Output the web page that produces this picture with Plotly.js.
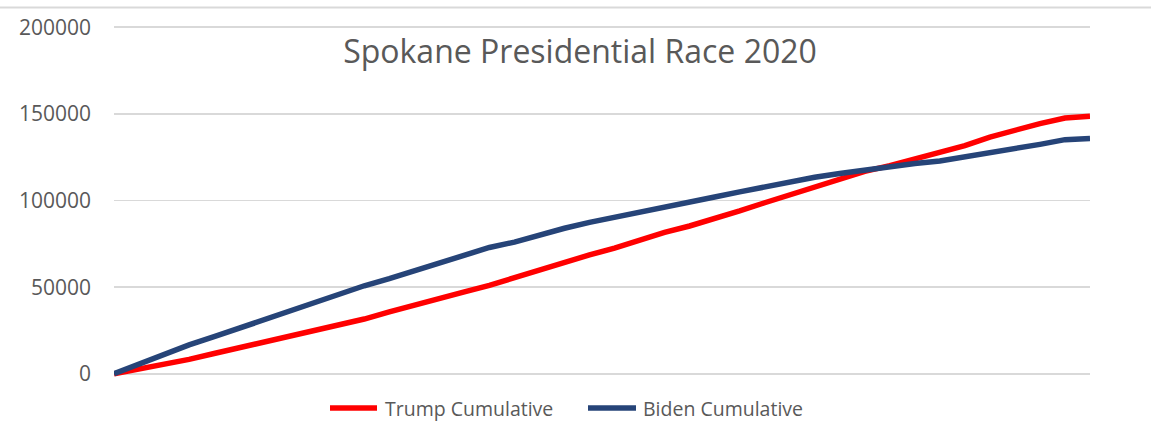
<!DOCTYPE html>
<html>
<head>
<meta charset="utf-8">
<script src="https://cdn.plot.ly/plotly-3.0.1.min.js"></script>
<style>
  html, body { margin: 0; padding: 0; background: #ffffff; }
  #chart { width: 1151px; height: 444px; }
</style>
</head>
<body>
<div id="chart"></div>
<script>
// Reporting step (precinct batch index) along the x axis
const steps = [0,1,2,3,4,5,6,7,8,9,10,11,12,13,14,15,16,17,18,19,20,21,22,23,24,25,26,27,28,29,30,31,32,33,34,35,36,37,38,39];

const trumpCumulative = [0,2700,5100,8300,11700,15000,18300,21700,24600,27600,31600,35700,39300,43500,47300,51000,55600,59700,64400,68600,72500,77100,81600,85300,89300,94000,98700,103400,107900,112500,116800,120100,124100,127600,131700,136600,140800,144400,147600,148576];

const bidenCumulative = [0,5600,11000,16700,21400,26400,30800,36500,41400,46200,50800,54900,59500,63400,68000,72900,76000,80200,84000,87400,90200,92900,95800,98900,102000,105000,108000,110800,113400,115600,117600,119500,121400,122800,125000,127700,130100,132400,135100,135765];

const seriesNames = ['Trump Cumulative', 'Biden Cumulative'];
const seriesColors = ['#ff0000', '#264478'];

const yTicks = [0, 50000, 100000, 150000, 200000];
const yTickLabels = ['0', '50000', '100000', '150000', '200000'];

const FONT = '"Open Sans", "Noto Sans", sans-serif';
const TEXT = '#595959';
const GRID = '#d9d9d9';

// plot-area geometry helpers (pixel -> paper)
const L = 114, R = 61, T = 21.5, B = 65.1, W = 1151, H = 444;
const pw = W - L - R, ph = H - T - B;
const px = v => (v - L) / pw;
const py = v => (H - B - v) / ph;

const traces = [
  {
    x: steps, y: trumpCumulative, name: seriesNames[0],
    type: 'scatter', mode: 'lines',
    line: { color: seriesColors[0], width: 5.5 },
    hoverinfo: 'skip', showlegend: false
  },
  {
    x: steps, y: bidenCumulative, name: seriesNames[1],
    type: 'scatter', mode: 'lines',
    line: { color: seriesColors[1], width: 5.5 },
    hoverinfo: 'skip', showlegend: false
  }
];

// custom legend (Excel style: long line samples)
const legendY = 408;
const legendItems = [
  { x0: 330, x1: 377, tx: 383 },
  { x0: 588, x1: 636, tx: 641 }
];

const shapes = [
  {
    type: 'line', xref: 'paper', yref: 'paper',
    x0: px(0), x1: px(W), y0: py(7), y1: py(7),
    line: { color: GRID, width: 2 }
  }
];
const annotations = [];
legendItems.forEach((it, i) => {
  shapes.push({
    type: 'line', xref: 'paper', yref: 'paper',
    x0: px(it.x0), x1: px(it.x1), y0: py(legendY), y1: py(legendY),
    line: { color: seriesColors[i], width: 5.5 }
  });
  annotations.push({
    xref: 'paper', yref: 'paper', x: px(it.tx), y: py(legendY),
    xanchor: 'left', yanchor: 'middle', showarrow: false,
    text: seriesNames[i],
    font: { family: FONT, size: 19.5, color: TEXT }
  });
});

const layout = {
  width: W, height: H,
  paper_bgcolor: '#ffffff', plot_bgcolor: '#ffffff',
  margin: { l: L, r: R, t: T, b: B, pad: 0 },
  font: { family: FONT, color: TEXT },
  title: {
    text: 'Spokane Presidential Race 2020',
    font: { family: FONT, size: 32, color: TEXT },
    x: 580 / W, xanchor: 'center', xref: 'container',
    y: 1 - 52 / H, yref: 'container', yanchor: 'middle'
  },
  xaxis: {
    range: [0, steps[steps.length - 1]],
    showgrid: false, zeroline: false, showline: false,
    showticklabels: false, ticks: ''
  },
  yaxis: {
    range: [-3000, 203000],
    tickmode: 'array', tickvals: yTicks, ticktext: yTickLabels,
    showgrid: true, gridcolor: GRID, gridwidth: 1.5,
    zeroline: false, showline: false, ticks: '',
    ticklabelstandoff: 22,
    tickfont: { family: FONT, size: 21, color: TEXT }
  },
  showlegend: false,
  shapes: shapes,
  annotations: annotations
};

Plotly.newPlot('chart', traces, layout, { displayModeBar: false, staticPlot: true });
</script>
</body>
</html>
